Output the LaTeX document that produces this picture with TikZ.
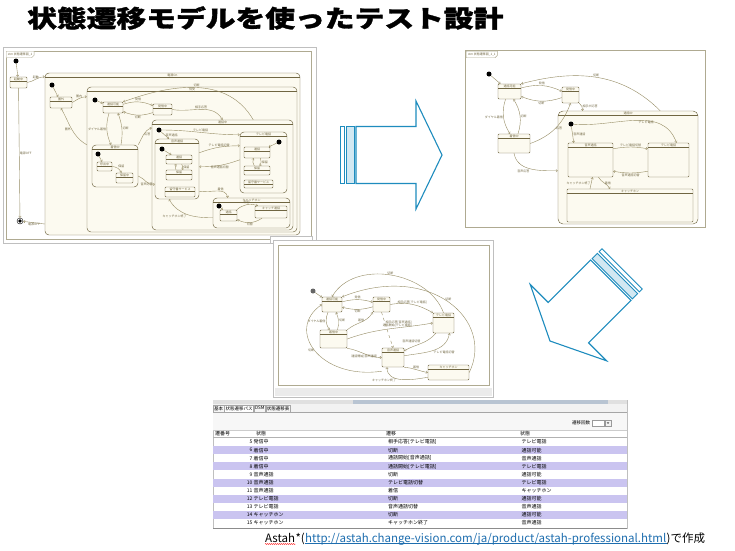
\documentclass[tikz,border=0pt]{standalone}
\usepackage{fontspec}
\setmainfont{Noto Sans CJK JP}
\newfontfamily\titlefont{Noto Sans CJK JP}[BoldFeatures={FakeBold=1.2}]
\usetikzlibrary{arrows.meta, positioning, shapes.misc, decorations.pathmorphing}
\definecolor{stc}{RGB}{112,102,66}
\definecolor{stf}{RGB}{252,250,240}
\definecolor{edg}{RGB}{150,140,100}
\definecolor{frm}{RGB}{175,170,145}
\definecolor{arblue}{RGB}{30,140,190}
\definecolor{rowb}{RGB}{202,196,240}
\definecolor{barb}{RGB}{184,196,210}
\definecolor{link}{RGB}{30,110,175}
\newcommand\tjp{\fontsize{3}{3.5}\selectfont}
\newcommand\cjp{\fontsize{5}{6}\selectfont}

\begin{document}
\begin{tikzpicture}[
  x=1pt, y=-1pt,
  shot/.style={draw=black!25, fill=white, line width=0.5pt, inner sep=0pt},
  st/.style={draw=stc, fill=stf, rounded corners=1pt, inner sep=0.8pt, line width=0.45pt,
             font=\tjp, text=stc, text height=2.4pt,
             path picture={\draw[stc,line width=0.3pt] ([yshift=-4.3pt]path picture bounding box.north west)
                           -- ([yshift=-4.3pt]path picture bounding box.north east);}},
  cst/.style={st, rounded corners=4pt},
  ini/.style={circle, fill=black, inner sep=0pt, minimum size=5pt},
  fin/.style={circle, draw=black, inner sep=0pt, minimum size=6pt,
              path picture={\fill[black] (path picture bounding box.center) circle (1.8pt);}},
  tr/.style={draw=edg, line width=0.4pt, -{Straight Barb[length=1.5pt,width=2.5pt]}},
  el/.style={font=\tjp, text=stc, inner sep=0.5pt},
  tabs/.style={chamfered rectangle, chamfered rectangle corners=south east, chamfered rectangle sep=1.2pt,
               draw=frm, fill=white, font=\tjp, text=stc, inner sep=0.6pt, anchor=north west},
  bigarrow/.style={draw=arblue, line width=1.1pt, line join=miter},
  tabn/.style={draw=black!35, fill=black!4, font=\fontsize{4.5}{5}\selectfont, inner sep=1pt,
               minimum height=7pt, anchor=south west},
  cell/.style={font=\cjp, inner sep=0pt, anchor=west},
  captext/.style={font=\fontsize{11.5}{14}\selectfont, inner sep=0pt, anchor=base west},
]
\useasboundingbox[fill=white] (0,0) rectangle (735,550);

% title
\node[anchor=west, font=\titlefont\bfseries\fontsize{24}{28}\selectfont, inner sep=0pt] (title) at (27,18)
  {\scalebox{1.24}[1]{状態遷移モデルを使ったテスト設計}};

% top left screenshot
\node[shot, minimum width=313pt, minimum height=196pt] (p1) at (159.5,145) {};
\draw[frm] (6,51) rectangle (311,239);
\node[tabs] (tab1) at (6,51) {stm 状態遷移図\_1};
\node[ini] (a0) at (16,61) {};
\node[st, minimum width=17pt, text depth=7pt] (a1) at (18.5,82.5) {起動中};
\node[fin] (af) at (20,221) {};
\node[cst, minimum width=255pt, text depth=158pt] (ac1) at (172.5,154) {電源On};
\node[ini] (a2) at (52,85) {};
\node[st, minimum width=22pt, text depth=7pt] (a3) at (61,102.5) {圏外};
\node[cst, minimum width=210pt, text depth=141pt] (ac2) at (192,159.5) {待受};
\node[ini] (a4) at (95,100) {};
\node[st, minimum width=20pt, text depth=7pt] (a5) at (113,107.5) {通話可能};
\node[st, minimum width=19pt, text depth=7pt] (a6) at (162.5,109.5) {発信中};
\node[cst, minimum width=46pt, text depth=38pt] (ac3) at (115,166) {着信中};
\node[ini] (a7) at (98,154) {};
\node[st, minimum width=15pt, text depth=5pt] (a8) at (104.5,166.5) {呼出中};
\node[st, minimum width=17pt, text depth=6pt] (a9) at (124.5,178) {保留中};
\node[cst, minimum width=141pt, text depth=106pt] (ac4) at (222.5,175) {通話中};
\node[ini] (a10) at (159,130) {};
\node[cst, minimum width=44pt, text depth=56pt] (ac5) at (177,169) {音声通話};
\node[ini] (a11) at (162,149) {};
\node[st, minimum width=26pt, text depth=5pt] (a12) at (179,159.5) {通話};
\node[st, minimum width=26pt, text depth=6pt] (a13) at (179,175) {保留};
\node[st, minimum width=30pt, text depth=6pt] (a14) at (180,192) {留守番サービス};
\node[cst, minimum width=47pt, text depth=57pt] (ac6) at (263.5,162.5) {テレビ電話};
\node[ini] (a15) at (279,142) {};
\node[st, minimum width=26pt, text depth=7pt] (a16) at (257,152.5) {通話};
\node[st, minimum width=26pt, text depth=5pt] (a17) at (257,170.5) {保留};
\node[st, minimum width=29pt, text depth=4pt] (a18) at (258.5,184) {留守番サービス};
\node[cst, minimum width=77pt, text depth=26pt] (ac7) at (251.5,213) {キャッチホン};
\node[ini] (a19) at (219,206) {};
\node[st, minimum width=17pt, text depth=7pt] (a20) at (228.5,215.5) {通話};
\node[st, minimum width=32pt, text depth=8pt] (a21) at (271,212) {キャッチ通話};

\draw[tr] (a0) -- (a1);
\draw[tr] (a1.east) to[out=10,in=180] node[el,above]{起動} (ac1.west |- a1.north);
\draw[tr] (a1) -- node[el,right]{電源OFF} (af);
\draw[tr] ([yshift=-3pt]ac1.west |- af) -- node[el,below]{電源OFF} (af);
\draw[tr] (a2) -- (a3);
\draw[tr] (a3.east) to[out=30,in=180] node[el,above]{圏内} (ac2.west |- a3.north);
\draw[tr] (ac2.west |- ac3.north) to[out=150,in=-60] node[el,left]{圏外} (a3.south);
\draw[tr] (a4) -- (a5);
\draw[tr] (a5) to[bend left=20] node[el,above]{発信} (a6);
\draw[tr] (a6) to[bend left=20] node[el,below]{切断} (a5);
\draw[tr] ([xshift=-40pt]ac4.north east) to[out=120,in=20] node[el,above]{切断} (a5.north east);
\draw[tr] (a6.east) to[out=-10,in=120] node[el,above]{相手応答} (ac4.north);
\draw[tr] ([xshift=-4pt]a5.south) to[bend right=20] node[el,left]{ダイヤル着信} ([xshift=-4pt]ac3.north);
\draw[tr] ([xshift=6pt]ac3.north) to[bend right=15] node[el,right]{切断} ([xshift=5pt]a5.south);
\draw[tr] (ac3.north east) to[out=60,in=200] node[el,right]{応答} ([yshift=-8pt]ac4.north west);
\draw[tr] ([yshift=-10pt]ac3.east) to[out=-20,in=200] node[el,below]{音声応答} ([yshift=-15pt]ac5.west);
\draw[tr] (a7) -- (a8);
\draw[tr] (a8) to[bend left] node[el,above right]{保留} (a9);
\draw[tr] (a10) -- node[el,right]{音声通話} ([xshift=-8pt]ac5.north);
\draw[tr] (a10) to[out=0,in=180] node[el,above]{テレビ電話} ([yshift=-3pt]ac6.north west);
\draw[tr] ([yshift=-14pt]ac5.north east) to[out=20,in=180] node[el,above]{テレビ電話切替} ([yshift=-14pt]ac6.north west);
\draw[tr] ([yshift=-28pt]ac6.north west) to[out=200,in=0] node[el,below]{音声通話切替} ([yshift=-28pt]ac5.north east);
\draw[tr] (a11) -- (a12);
\draw[tr] (a12) to[bend left] node[el,right]{保留} (a13);
\draw[tr] (a13) to[bend left] (a12);
\draw[tr] (a15) -- (a16);
\draw[tr] (a16) to[bend left] node[el,right]{保留} (a17);
\draw[tr] (a17) to[bend left] (a16);
\draw[tr] ([yshift=8pt]ac5.south east) to[out=-10,in=100] node[el,above right]{着信} ([xshift=15pt]ac7.north west);
\draw[tr] ([yshift=-20pt]ac7.north west) to[out=180,in=-60] node[el,below left]{キャッチホン終了} ([xshift=-8pt]ac5.south);
\draw[tr] (a19) -- (a20);
\draw[tr] (a20) to[bend left] node[el,above]{保留} (a21);
\draw[tr] (a21) to[bend left] node[el,below]{切替} (a20);

% arrow to the right
\begin{scope}[shift={(442,155)}]
  \draw[bigarrow] (-86,-28.5) -- (-26,-28.5) -- (-26,-54) -- (0,0) -- (-26,54) -- (-26,28.5) -- (-86,28.5) -- cycle;
  \draw[bigarrow, line width=0.9pt] (-102,-28.5) rectangle (-98,28.5);
  \draw[bigarrow, line width=0.9pt, fill=arblue!20] (-95.5,-28.5) rectangle (-88,28.5);
\end{scope}

% top right screenshot
\node[shot, draw=frm, minimum width=240pt, minimum height=177pt] (p2) at (585,138.5) {};
\node[tabs] (tab2) at (466,51) {stm 状態遷移図\_1\_1};
\node[ini] (b0) at (489,74) {};
\node[st, minimum width=23pt, text depth=11pt] (b1) at (509.5,91.5) {通話可能};
\node[st, minimum width=17pt, text depth=12pt] (b2) at (570.5,95) {発信中};
\node[st, minimum width=32pt, text depth=15pt] (b3) at (514,143.5) {着信中};
\node[cst, rounded corners=5pt, minimum width=140pt, text depth=109pt] (bc1) at (628,167.5) {通話中};
\node[ini] (b4) at (571,124) {};
\node[st, minimum width=45pt, text depth=30pt] (b5) at (590.5,160) {音声通話};
\node[st, minimum width=41pt, text depth=30pt] (b6) at (668.5,160) {テレビ電話};
\node[st, minimum width=126pt, text depth=29pt] (b7) at (630,205.5) {キャッチホン};

\draw[tr] (b0) -- (b1);
\draw[tr] (b1) to[bend left=20] node[el,above]{発信} (b2);
\draw[tr] (b2) to[bend left=20] node[el,below]{切断} (b1);
\draw[tr] ([xshift=-38pt]bc1.north east) to[out=135,in=15] node[el,above]{切断} (b1.north east);
\draw[tr] (b2.south east) to[out=-30,in=100] node[el,right]{相手が応答} ([xshift=25pt]bc1.north west);
\draw[tr] ([xshift=-4pt]b1.south) to[bend right=25] node[el,left]{ダイヤル着信} ([xshift=-4pt]b3.north);
\draw[tr] ([xshift=4pt]b3.north) to[bend right=25] node[el,right]{切断} ([xshift=4pt]b1.south);
\draw[tr] (b3.east) to[out=20,in=-110] node[el,right]{応答} (b2.south);
\draw[tr] (b3.south) to[out=-80,in=180] node[el,below left]{音声応答} ([yshift=-60pt]bc1.north west);
\draw[tr] (b4) -- node[el,right]{音声通話} ([xshift=6pt]b5.north west);
\draw[tr] (b4) to[out=-5,in=110] node[el,below,pos=0.6]{テレビ電話} ([xshift=8pt]b6.north);
\draw[tr] ([yshift=-6pt]b5.north east) to[out=10,in=170] node[el,above]{テレビ電話切替} ([yshift=-6pt]b6.north west);
\draw[tr] ([yshift=6pt]b6.south west) to[out=190,in=-10] node[el,below]{音声通話切替} ([yshift=6pt]b5.south east);
\draw[tr] ([xshift=8pt]b5.south) to[out=-60,in=120] node[el,right]{着信} ([xshift=-20pt]b7.north);
\draw[tr] ([xshift=-40pt]b7.north) -- node[el,left]{キャッチホン終了} ([xshift=2pt]b5.south);

% arrow down to the left
\begin{scope}[shift={(550,341)}, rotate=225]
  \draw[bigarrow] (-86,-28.5) -- (-26,-28.5) -- (-26,-54) -- (0,0) -- (-26,54) -- (-26,28.5) -- (-86,28.5) -- cycle;
  \draw[bigarrow, line width=0.9pt] (-102,-28.5) rectangle (-98,28.5);
  \draw[bigarrow, line width=0.9pt, fill=arblue!20] (-95.5,-28.5) rectangle (-88,28.5);
\end{scope}

% middle screenshot
\node[shot, minimum width=42pt, minimum height=7pt] (p3t) at (291,239.5) {};
\node[shot, minimum width=220pt, minimum height=157pt] (p3) at (383,318.5) {};
\draw[frm] (278,245) rectangle (489,385);
\fill[black!8] (275,388) rectangle (492,396);
\node[ini, fill=black!60] (c0) at (313,291) {};
\node[st, minimum width=20pt, text depth=11pt] (c1) at (332,304.5) {通話可能};
\node[st, minimum width=17pt, text depth=11pt] (c2) at (381.5,304.5) {発信中};
\node[st, minimum width=27pt, text depth=14pt] (c3) at (333.5,339) {着信中};
\node[st, minimum width=21pt, text depth=16pt] (c4) at (443.5,323) {テレビ電話};
\node[st, minimum width=22pt, text depth=15pt] (c5) at (393,357.5) {音声通話};
\node[st, minimum width=41pt, text depth=11pt] (c6) at (448.5,372.5) {キャッチホン};

\draw[tr] (c0) -- (c1);
\draw[tr] (c1) to[bend left=15] node[el,above]{発信} (c2);
\draw[tr] (c2) to[bend left=15] node[el,below]{切断} (c1);
\draw[tr] ([xshift=-4pt]c1.south) to[bend right=30] node[el,left]{ダイヤル着信} ([xshift=-4pt]c3.north);
\draw[tr] ([xshift=4pt]c3.north) to[bend right=20] node[el,right]{切断} ([xshift=4pt]c1.south);
\draw[tr] (c2.east) to[out=10,in=150] node[el,above]{相手応答[テレビ電話]} (c4.north west);
\draw[tr, dashed] (c2.south) -- node[el,right,pos=0.3]{相手応答[音声通話]} (c5.north);
\draw[tr] (c3.east) to[out=20,in=190] node[el,above,pos=0.6]{通話開始[テレビ電話]} (c4.west);
\draw[tr] (c3.south east) to[out=-10,in=180] node[el,below]{通話開始[音声通話]} (c5.west);
\draw[tr] (c3.north east) to[out=40,in=-120] node[el,above]{着信} (c2.south west);
\draw[tr] ([xshift=3pt]c4.south west) to[out=-130,in=30] node[el,above left]{音声通話切替} ([yshift=-3pt]c5.north east);
\draw[tr] ([yshift=-8pt]c5.north east) to[out=10,in=-100] node[el,below right]{テレビ電話切替} ([xshift=6pt]c4.south);
\draw[tr] (c5.south east) to[out=-5,in=170] node[el,above]{着信} (c6.west);
\draw[tr] ([yshift=3pt]c6.south west) to[out=190,in=-90] node[el,below left,pos=0.6]{キャッチホン終了} ([xshift=-6pt]c5.south);
\draw[tr] (c4.north) to[out=110,in=60] node[el,above]{切断} (c1.north);
\draw[tr] (c6.east) .. controls (495,320) and (430,262) .. node[el,above]{切断} (c1.north east);
\draw[tr] ([yshift=-4pt]c5.south west) .. controls (320,380) and (285,330) .. node[el,left]{切断} (c1.west);

% transition path table
\draw[black!25, fill=white] (213,400) rectangle (627,528);
\fill[black!12] (213,400) rectangle (627,404);
\fill[barb] (353,400) rectangle (608,404);
\fill[black!5] (213,404) rectangle (627,412);
\node[tabn] (tb1) at (213,412) {基本};
\node[tabn, fill=white, right=0pt of tb1] (tb2) {状態遷移パス};
\node[tabn, right=0pt of tb2] (tb3) {DSM};
\node[tabn, right=0pt of tb3] (tb4) {状態遷移表};
\draw[black!35] (213,412) -- (627,412);
\fill[black!3] (213,412.5) rectangle (627,430);
\node[cell, font=\fontsize{4.5}{5}\selectfont] (cnt) at (572,423) {遷移回数};
\node[draw=black!40, fill=white, minimum width=12pt, minimum height=6pt, inner sep=0pt, right=2pt of cnt] (cbox) {};
\node[draw=black!40, fill=black!5, minimum width=6pt, minimum height=6pt, inner sep=0pt, right=0pt of cbox] (cbtn) {};
\fill[black!70] ([shift={(-1.3,-0.6)}]cbtn.center) -- ([shift={(1.3,-0.6)}]cbtn.center) -- ([shift={(0,0.8)}]cbtn.center) -- cycle;
\draw[black!20] (213,430) -- (627,430);
\node[cell] (h1) at (215,433.8) {遷番号};
\node[cell] (h2) at (256,433.8) {状態};
\node[cell] (h3) at (386,433.8) {遷移};
\node[cell] (h4) at (520,433.8) {状態};
\draw[black!30] (213,437.5) -- (627,437.5);
\foreach \nn/\sa/\tb/\sb [count=\i from 0] in {
  5/発信中/{相手応答[テレビ電話]}/テレビ電話,
  6/着信中/切断/通話可能,
  7/着信中/{通話開始[音声通話]}/音声通話,
  8/着信中/{通話開始[テレビ電話]}/テレビ電話,
  9/音声通話/切断/通話可能,
  10/音声通話/テレビ電話切替/テレビ電話,
  11/音声通話/着信/キャッチホン,
  12/テレビ電話/切断/通話可能,
  13/テレビ電話/音声通話切替/音声通話,
  14/キャッチホン/切断/通話可能,
  15/キャッチホン/キャッチホン終了/音声通話}{
  \ifodd\i \fill[rowb] (213,{438+\i*8.1}) rectangle (627,{446.1+\i*8.1}); \fi
  \node[cell, anchor=east] (n\nn) at (252.5,{442.05+\i*8.1}) {\nn};
  \node[cell] (s\nn) at (253.5,{442.05+\i*8.1}) {\sa};
  \node[cell] (t\nn) at (388,{442.05+\i*8.1}) {\tb};
  \node[cell] (d\nn) at (521.5,{442.05+\i*8.1}) {\sb};
}
\draw[black!45] (213,528) -- (627,528);

% caption
\node[captext] (capa) at (265,542) {Astah};
\node[captext] (capb) at (capa.base east) {*(};
\node[captext, text=link] (capc) at (capb.base east) {http://astah.change-vision.com/ja/product/astah-professional.html};
\node[captext] (capd) at (capc.base east) {)で作成};
\draw[link, line width=0.6pt] ([yshift=-1.6pt]capc.base west) -- ([yshift=-1.6pt]capc.base east);
\draw[red, line width=0.4pt, decorate, decoration={snake, amplitude=0.5pt, segment length=2pt}]
  ([yshift=-2pt]capa.base west) -- ([yshift=-2pt]capa.base east);
\end{tikzpicture}
\end{document}
